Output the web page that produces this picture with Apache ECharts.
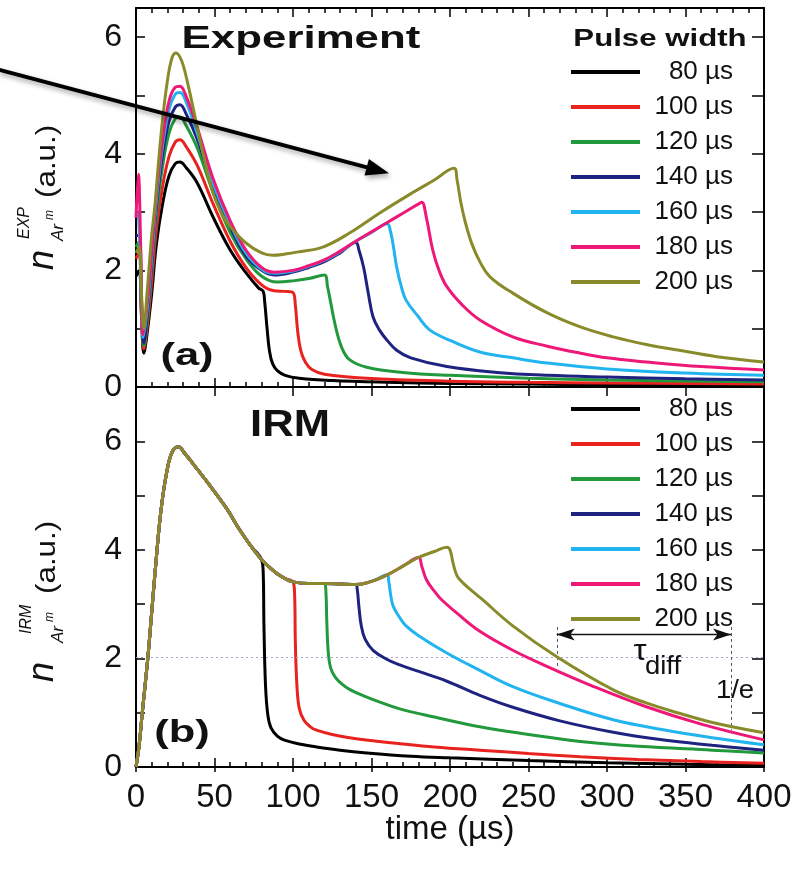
<!DOCTYPE html>
<html><head><meta charset="utf-8">
<script src="https://cdn.jsdelivr.net/npm/echarts@6/dist/echarts.min.js"></script>
<style>html,body{margin:0;padding:0;background:#fff}#c{width:798px;height:871px}</style>
</head><body><div id="c"></div>
<script>
// ---------- DATA ----------
const pulseWidths = [80, 100, 120, 140, 160, 180, 200];
const seriesNames = ['80 µs', '100 µs', '120 µs', '140 µs', '160 µs', '180 µs', '200 µs'];
const seriesColors = ['#000000', '#e8231f', '#22993c', '#1f2380', '#22b4ef', '#ee1878', '#898b2a'];
const xTicks = [0, 50, 100, 150, 200, 250, 300, 350, 400];

// (a) Experiment
const exp80 = [[0,1.9],[2,2.0],[3.5,1.2],[5,0.58],[7,0.9],[10,1.6],[13,2.45],[17,3.15],[21,3.62],[25,3.83],[28,3.86],[32,3.76],[39,3.5],[49,2.92],[60,2.35],[70,1.96],[78,1.7],[81,1.64],[82,1.45],[83.5,1.0],[85,0.62],[87,0.4],[90,0.28],[95,0.2],[104,0.15],[125,0.11],[160,0.08],[200,0.06],[250,0.05],[300,0.04],[400,0.03]];
const exp100 = [[0,2.2],[2,2.3],[3.5,1.3],[5,0.65],[7,1.0],[10,1.8],[13,2.7],[17,3.45],[21,3.95],[25,4.2],[28,4.24],[32,4.12],[39,3.8],[49,3.15],[60,2.5],[70,2.05],[80,1.75],[88,1.65],[95,1.64],[100,1.62],[101.5,1.4],[103,0.95],[105,0.62],[108,0.42],[112,0.3],[120,0.22],[147,0.15],[200,0.1],[250,0.08],[300,0.07],[400,0.05]];
const exp120 = [[0,2.4],[2,2.5],[3.5,1.4],[5,0.7],[7,1.1],[10,2.0],[13,2.95],[17,3.8],[21,4.35],[25,4.6],[28,4.63],[32,4.48],[39,4.1],[49,3.35],[60,2.65],[70,2.2],[80,1.9],[90,1.8],[100,1.82],[110,1.86],[120,1.92],[122,1.72],[124,1.45],[127,1.05],[131,0.68],[136,0.47],[147,0.34],[170,0.25],[200,0.2],[250,0.15],[300,0.12],[400,0.09]];
const exp140 = [[0,2.6],[2,2.6],[3.5,1.5],[5,0.75],[7,1.2],[10,2.1],[13,3.1],[17,4.0],[21,4.55],[25,4.8],[28,4.84],[32,4.68],[39,4.25],[49,3.45],[60,2.75],[70,2.25],[80,2.0],[88,1.92],[100,1.97],[110,2.05],[120,2.15],[130,2.3],[140,2.48],[142,2.35],[145,2.05],[148,1.6],[151,1.2],[155,0.98],[160,0.8],[166,0.63],[175,0.5],[198,0.35],[230,0.25],[262,0.2],[300,0.17],[350,0.14],[400,0.12]];
const exp160 = [[0,3.0],[1.5,2.95],[3,1.9],[4.5,0.85],[7,1.3],[10,2.2],[13,3.2],[17,4.15],[21,4.75],[25,5.02],[28,5.05],[32,4.88],[39,4.35],[49,3.5],[60,2.8],[70,2.3],[80,2.02],[88,1.95],[100,1.99],[110,2.07],[120,2.17],[130,2.32],[140,2.5],[150,2.65],[160,2.8],[162,2.68],[164,2.4],[166,2.06],[169,1.72],[172,1.49],[180,1.2],[187,0.98],[200,0.8],[219,0.6],[240,0.5],[262,0.41],[300,0.31],[350,0.24],[400,0.2]];
const exp180 = [[0,2.9],[1.5,3.65],[3,2.4],[4.5,0.9],[7,1.4],[10,2.3],[13,3.3],[17,4.25],[21,4.9],[25,5.14],[28,5.16],[32,4.98],[39,4.45],[49,3.58],[60,2.85],[70,2.35],[80,2.05],[88,1.97],[100,2.0],[110,2.08],[120,2.18],[130,2.33],[140,2.5],[150,2.66],[160,2.82],[170,2.98],[180,3.14],[182,3.17],[185,2.9],[189,2.35],[193,2.0],[198,1.72],[208,1.4],[219,1.15],[240,0.86],[262,0.7],[283,0.58],[300,0.5],[325,0.43],[360,0.35],[400,0.29]];
const exp200 = [[0,2.3],[2,2.4],[3.5,1.6],[5,1.0],[7,1.6],[10,2.6],[12,3.1],[14.5,3.9],[17,4.6],[20,5.25],[23,5.65],[25.5,5.73],[29,5.6],[33,5.2],[39,4.46],[44,3.85],[49,3.33],[55,2.95],[60,2.75],[70,2.47],[80,2.3],[87,2.26],[95,2.28],[104,2.32],[119,2.4],[136,2.64],[155,2.98],[176,3.33],[190,3.55],[202.5,3.75],[204.5,3.55],[207,3.15],[210,2.8],[214,2.45],[219,2.15],[225.5,1.89],[240,1.61],[262,1.27],[283,1.03],[304,0.86],[325,0.73],[346,0.63],[370,0.52],[400,0.43]];

// (b) IRM: shared rising part, then the decay of each pulse width
const irmCommon = [[0,0],[2,0.4],[4,1.0],[7.6,2.03],[10,2.85],[13,3.87],[16,4.75],[19.5,5.42],[23,5.8],[27,5.9],[31,5.78],[40,5.45],[49,5.11],[58,4.75],[66,4.37],[73,4.08],[80,3.82],[85,3.68],[90,3.56],[95,3.47],[100,3.41],[110,3.38],[120,3.38],[130,3.37],[140,3.36],[150,3.42],[160,3.54],[170,3.7],[180,3.86],[190,3.97],[198,4.05]];
const irm80 = [[81,3.6],[81.5,2.6],[82.5,1.5],[84,0.95],[86,0.72],[90,0.57],[95,0.49],[105,0.42],[115,0.37],[130,0.31],[147,0.26],[175,0.2],[200,0.17],[250,0.12],[300,0.08],[350,0.05],[400,0.03]];
const irm100 = [[101,3.2],[101.5,2.3],[102.5,1.5],[104,1.08],[107,0.86],[111,0.74],[115,0.68],[125,0.6],[136,0.54],[155,0.47],[168,0.43],[190,0.37],[219,0.31],[250,0.25],[283,0.19],[320,0.14],[360,0.1],[400,0.07]];
const irm120 = [[121,3.2],[121.5,2.7],[122.5,2.1],[124,1.82],[127,1.65],[131,1.53],[136,1.43],[145,1.31],[155,1.2],[168,1.07],[190,0.92],[219,0.74],[250,0.6],[283,0.47],[320,0.38],[367,0.31],[400,0.26]];
const irm140 = [[141,3.25],[142,2.95],[143.5,2.6],[146,2.35],[151,2.15],[160,1.98],[168,1.88],[180,1.76],[198,1.58],[219,1.32],[240,1.1],[270,0.85],[304,0.64],[335,0.5],[367,0.4],[400,0.31]];
const irm160 = [[161,3.42],[162.5,3.12],[164,2.95],[168,2.75],[172,2.6],[180,2.42],[198,2.1],[219,1.78],[240,1.48],[270,1.17],[304,0.87],[335,0.69],[367,0.54],[400,0.41]];
const irm180 = [[182,3.7],[185,3.45],[190,3.24],[194,3.1],[205,2.82],[219,2.5],[240,2.15],[262,1.85],[290,1.5],[325,1.11],[360,0.79],[400,0.5]];
const irm200 = [[200,4.0],[202,3.75],[204.5,3.52],[208,3.4],[211,3.32],[220,3.1],[240,2.6],[268,2.03],[304,1.42],[325,1.18],[346,0.99],[370,0.8],[400,0.63]];

// tau_diff annotation (data coordinates of panel b)
const tauLevel = 2.03;
const tauStart = 268;
const tauEnd = 379;
const tauArrowY = 2.44;
const tauLeftSpan = [2.58, 1.85];
const tauRightSpan = [2.58, 0.68];

// ---------- BUILD ----------
const FONT = "'Liberation Sans', Arial, Helvetica, sans-serif";
const expData = [exp80, exp100, exp120, exp140, exp160, exp180, exp200];
const irmDecay = [irm80, irm100, irm120, irm140, irm160, irm180, irm200];

function xAxisDef(grid, pos, o) {
  return Object.assign({
    type: 'value', gridIndex: grid, position: pos, min: 0, max: 400, interval: 50,
    axisLine: { show: true, onZero: false, lineStyle: { color: '#000', width: 2 } },
    axisTick: { show: true, inside: true, length: 9, lineStyle: { color: '#000', width: 1.5 } },
    minorTick: { show: true, splitNumber: 5, length: 5, lineStyle: { color: '#000', width: 1.5 } },
    axisLabel: { show: false },
    splitLine: { show: false }, minorSplitLine: { show: false }
  }, o || {});
}
function yAxisDef(grid, pos, max, o) {
  return Object.assign({
    type: 'value', gridIndex: grid, position: pos, min: 0, max: max, interval: 1,
    axisLine: { show: true, onZero: false, lineStyle: { color: '#000', width: 2 } },
    axisTick: { show: true, inside: true, length: 9, lineStyle: { color: '#000', width: 1.5 } },
    axisLabel: { show: false },
    splitLine: { show: false }
  }, o || {});
}
const yLabel = {
  show: true, margin: 14, fontSize: 32, color: '#111', fontFamily: FONT,
  formatter: v => (Math.abs(v % 2) < 1e-9 ? String(v) : '')
};

const SMOOTH = 0.4;
const series = [];
expData.forEach((d, i) => {
  series.push({
    name: seriesNames[i], type: 'line', xAxisIndex: 0, yAxisIndex: 0,
    data: d, showSymbol: false, symbol: 'none', smooth: SMOOTH,
    lineStyle: { color: seriesColors[i], width: 3 }, itemStyle: { color: seriesColors[i] },
    silent: true, z: 2 + i
  });
});
irmDecay.forEach((d, i) => {
  const data = irmCommon.filter(p => p[0] <= pulseWidths[i]).concat(d);
  const s = {
    name: seriesNames[i], type: 'line', xAxisIndex: 2, yAxisIndex: 2,
    data: data, showSymbol: false, symbol: 'none', smooth: SMOOTH,
    lineStyle: { color: seriesColors[i], width: 3 }, itemStyle: { color: seriesColors[i] },
    silent: true, z: 2 + i
  };
  if (i === irmDecay.length - 1) {
    s.markLine = {
      silent: true, symbol: ['none', 'none'], animation: false,
      label: { show: false },
      data: [
        [{ coord: [0, tauLevel], lineStyle: { color: '#9aa6cf', width: 1, type: [2, 3] } },
         { coord: [400, tauLevel] }],
        [{ coord: [tauStart, tauLeftSpan[0]], lineStyle: { color: '#555', width: 1, type: [3, 3] } },
         { coord: [tauStart, tauLeftSpan[1]] }],
        [{ coord: [tauEnd, tauRightSpan[0]], lineStyle: { color: '#555', width: 1, type: [3, 3] } },
         { coord: [tauEnd, tauRightSpan[1]] }],
        [{ coord: [tauStart, tauArrowY], symbol: 'arrow', symbolSize: [9, 18], lineStyle: { color: '#111', width: 1.3, type: 'solid' } },
         { coord: [tauEnd, tauArrowY], symbol: 'arrow', symbolSize: [9, 18] }]
      ]
    };
  }
  series.push(s);
});

function legendDef(top) {
  return {
    left: 571, top: top, orient: 'vertical', padding: 0,
    icon: 'rect', itemWidth: 69, itemHeight: 4, itemGap: 9, itemTextGap: 5,
    selectedMode: false, data: seriesNames,
    formatter: n => '{t|' + n + '}',
    textStyle: { rich: { t: { width: 88, align: 'right', fontSize: 26, lineHeight: 24, color: '#111', fontFamily: FONT } } }
  };
}

function rotText(txt, x, y, size, style, sx) {
  return {
    type: 'text', x: x, y: y, rotation: Math.PI / 2, scaleX: sx || 1, z: 50, silent: true,
    style: { text: txt, x: 0, y: 0, fontSize: size, fontStyle: style, fontFamily: FONT, fill: '#111', align: 'left', verticalAlign: 'middle' }
  };
}
function plainText(txt, x, y, size, weight, sx, extra) {
  return {
    type: 'text', x: x, y: y, scaleX: sx || 1, z: 50, silent: true,
    style: Object.assign({ text: txt, x: 0, y: 0, fontSize: size, fontWeight: weight, fontFamily: FONT, fill: '#111', align: 'center', verticalAlign: 'middle' }, extra || {})
  };
}

const graphic = [
  // big pointing arrow
  { type: 'line', z: 100, silent: true, shape: { x1: -2, y1: 69.5, x2: 367, y2: 167.4 },
    style: { stroke: '#000', lineWidth: 4, shadowBlur: 5, shadowColor: 'rgba(0,0,0,0.35)', shadowOffsetX: 2, shadowOffsetY: 3 } },
  { type: 'polygon', z: 100, silent: true, shape: { points: [[389, 173.2], [364.5, 175.6], [368.9, 159.1]] },
    style: { fill: '#000', shadowBlur: 5, shadowColor: 'rgba(0,0,0,0.35)', shadowOffsetX: 2, shadowOffsetY: 3 } },
  // panel titles
  plainText('Experiment', 301, 39, 32, 'bold', 1.37),
  plainText('IRM', 290, 426, 36, 'bold', 1.21),
  plainText('Pulse width', 660, 39, 24, 'bold', 1.3),
  plainText('(a)', 187, 356, 32, 'bold', 1.36),
  plainText('(b)', 182, 733, 32, 'bold', 1.36),
  // tau_diff annotation text
  plainText('τ', 640, 652, 30, 'normal', 1.1),
  plainText('diff', 663, 667, 25, 'normal', 1.1),
  plainText('1/e', 735, 691, 25, 'normal', 1.1),
  // y-axis names (a)
  rotText('(a.u.)', 47, 198, 28, 'normal', 1.12),
  rotText('EXP', 25, 239, 16, 'italic', 1.0),
  rotText('Ar', 58, 241, 17, 'italic', 1.0),
  rotText('m', 50, 220, 12, 'italic', 1.0),
  rotText('n', 43, 270, 36, 'italic', 1.0),
  // y-axis names (b)
  rotText('(a.u.)', 47, 594, 28, 'normal', 1.12),
  rotText('IRM', 27, 634, 16, 'italic', 1.0),
  rotText('Ar', 58, 643, 17, 'italic', 1.0),
  rotText('m', 50, 622, 12, 'italic', 1.0),
  rotText('n', 43, 682, 36, 'italic', 1.0)
];

const option = {
  animation: false,
  backgroundColor: '#ffffff',
  textStyle: { fontFamily: FONT },
  grid: [
    { left: 136, right: 34, top: 8, height: 379 },
    { left: 136, right: 34, top: 387, height: 380 }
  ],
  xAxis: [
    xAxisDef(0, 'bottom'),
    xAxisDef(0, 'top'),
    xAxisDef(1, 'bottom', {
      axisLabel: { show: true, margin: 14, fontSize: 33, color: '#111', fontFamily: FONT },
      name: 'time (µs)', nameLocation: 'middle', nameGap: 46, nameMoveOverlap: false,
      nameTextStyle: { fontSize: 33, color: '#111', fontFamily: FONT }
    }),
    xAxisDef(1, 'top', { minorTick: { show: false } }),
    xAxisDef(1, 'bottom', { axisLine: { show: false }, minorTick: { show: false },
      axisTick: { show: true, inside: false, length: 5, lineStyle: { color: '#000', width: 1.5 } } })
  ],
  yAxis: [
    yAxisDef(0, 'left', 6.5, { axisLabel: yLabel }),
    yAxisDef(0, 'right', 6.5, { axisTick: { show: true, inside: true, length: 12, lineStyle: { color: '#000', width: 1.5 } } }),
    yAxisDef(1, 'left', 7, { axisLabel: yLabel }),
    yAxisDef(1, 'right', 7, { axisTick: { show: true, inside: true, length: 12, lineStyle: { color: '#000', width: 1.5 } } })
  ],
  legend: [legendDef(59), legendDef(396)],
  series: series,
  graphic: graphic
};

const chart = echarts.init(document.getElementById('c'), null, { renderer: 'canvas' });
chart.setOption(option);
</script></body></html>
